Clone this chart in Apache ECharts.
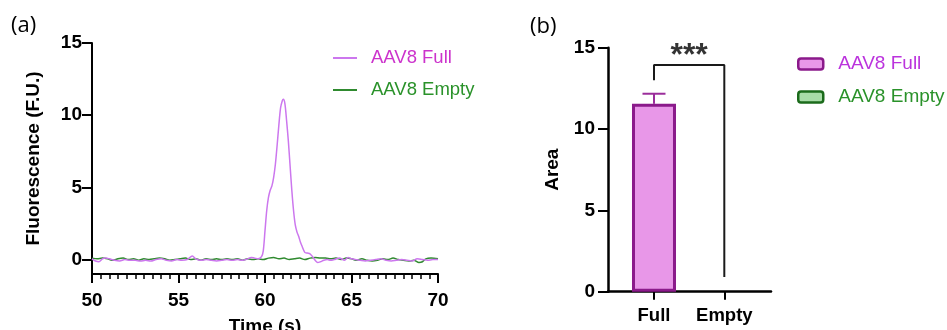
<!DOCTYPE html>
<html><head><meta charset="utf-8">
<script src="https://cdn.jsdelivr.net/npm/echarts@6/dist/echarts.min.js"></script>
<style>html,body{margin:0;padding:0;background:#fff}#c{width:947px;height:330px}</style>
</head><body><div id="c"></div>
<script>
// ---- Panel (a): electropherogram ----
const fullTime = [50.0,50.2,50.4,50.6,50.8,51.0,51.3,51.6,51.9,52.2,52.5,52.8,53.1,53.4,53.7,54.0,54.3,54.6,54.9,55.2,55.5,55.8,56.0,56.3,56.6,56.9,57.2,57.5,57.8,58.1,58.4,58.7,59.0,59.2,59.4,59.6,59.8,59.9,60.0,60.1,60.2,60.3,60.4,60.5,60.6,60.7,60.8,60.9,61.0,61.06,61.15,61.25,61.35,61.45,61.55,61.65,61.75,61.85,61.95,62.05,62.15,62.3,62.45,62.6,62.75,62.9,63.05,63.2,63.4,63.6,63.8,64.0,64.3,64.6,64.8,65.0,65.2,65.5,65.8,66.1,66.4,66.7,67.0,67.3,67.6,67.9,68.2,68.5,68.8,69.1,69.4,69.7,70.0];
const fullSignal = [0.05,-0.1,-0.15,0.05,0.1,0.05,-0.05,-0.1,0.0,-0.05,-0.05,-0.1,-0.05,-0.1,0.0,0.05,-0.05,-0.1,0.0,-0.05,0.0,0.25,0.05,-0.05,0.0,-0.05,-0.1,-0.05,0.0,-0.05,0.0,-0.05,0.05,0.15,0.1,0.05,0.2,0.6,2.0,3.4,4.3,4.8,5.1,5.7,6.6,7.9,9.3,10.5,11.0,11.1,10.8,9.6,8.2,6.5,4.8,3.4,2.4,1.9,1.6,1.2,0.9,0.5,0.45,0.4,0.2,-0.05,-0.2,-0.15,-0.05,0.0,-0.05,0.0,0.1,-0.05,0.15,0.05,0.0,-0.05,-0.1,-0.05,0.0,0.05,-0.05,-0.1,-0.05,0.0,-0.05,-0.1,0.05,0.0,-0.05,0.0,0.0];
const emptyTime = [50.0,50.3,50.6,50.9,51.2,51.5,51.8,52.1,52.4,52.7,53.0,53.3,53.6,53.9,54.2,54.5,54.8,55.1,55.4,55.7,56.0,56.3,56.6,56.9,57.2,57.5,57.8,58.1,58.4,58.7,59.0,59.3,59.6,59.9,60.2,60.5,60.8,61.1,61.4,61.7,62.0,62.3,62.6,62.9,63.2,63.5,63.8,64.1,64.4,64.7,65.0,65.3,65.6,65.9,66.2,66.5,66.8,67.1,67.4,67.7,68.0,68.3,68.6,68.9,69.1,69.3,69.6,70.0];
const emptySignal = [0.1,0.05,0.1,0.05,-0.05,0.05,0.1,0.0,0.05,-0.05,0.05,0.0,0.05,0.1,0.05,-0.05,0.0,0.05,0.1,0.0,0.05,-0.05,0.05,0.0,0.05,0.0,0.05,0.0,0.05,-0.05,0.05,0.0,0.05,0.0,0.1,0.15,0.05,0.1,0.0,0.05,0.1,0.0,0.1,0.15,0.1,0.1,0.05,0.1,0.0,0.1,0.05,-0.05,0.05,-0.05,-0.1,-0.05,0.05,0.0,0.1,0.0,-0.05,-0.1,-0.05,-0.2,-0.15,0.05,0.1,0.05];
const yTicksA = [0, 5, 10, 15];
const lineNames = ['AAV8 Full', 'AAV8 Empty'];

// ---- Panel (b): peak area ----
const barCategories = ['Full', 'Empty'];
const barValues = [11.55, 0];
const barErrors = [0.62, 0];
const barLegendNames = ['AAV8 Full', 'AAV8 Empty'];
const yTicksB = [0, 5, 10, 15];
const sigText = '***';
const bracketLeftBottom = 13.0;
const bracketTop = 13.93;
const bracketRightBottom = 0.9;

const FONT = 'Liberation Sans, Arial, sans-serif';
const pair = (t, v) => t.map((x, i) => [x, v[i]]);
const SUFFIX = ' (Area)';

const chart = echarts.init(document.getElementById('c'));
const option = {
  animation: false,
  backgroundColor: '#fff',
  title: [
    {text: '(a)', left: 11, top: 15, padding: 0, textStyle: {fontFamily: 'Open Sans, sans-serif', fontWeight: 'normal', fontSize: 22, color: '#000'}},
    {text: '(b)', left: 530, top: 16, padding: 0, textStyle: {fontFamily: 'Open Sans, sans-serif', fontWeight: 'normal', fontSize: 22, color: '#000'}}
  ],
  grid: [
    {left: 92, top: 43, width: 346, height: 231, outerBoundsMode: 'none', containLabel: false},
    {left: 608, top: 47.7, width: 163, height: 244, outerBoundsMode: 'none', containLabel: false}
  ],
  legend: [
    {
      orient: 'vertical', left: 333, top: 48, padding: 0, itemWidth: 24, itemHeight: 2, itemGap: 12,
      icon: 'rect',
      data: [
        {name: lineNames[0], textStyle: {color: '#cc33cc'}},
        {name: lineNames[1], textStyle: {color: '#2a922a'}}
      ],
      textStyle: {fontFamily: FONT, fontSize: 18.5, lineHeight: 20, padding: [0, 0, 0, 9]}
    },
    {
      orient: 'vertical', left: 797, top: 54, padding: 0, itemWidth: 25, itemHeight: 11, itemGap: 13,
      itemStyle: {borderWidth: 2.5},
      data: [
        {name: barLegendNames[0] + SUFFIX, textStyle: {color: '#bb33dd'}},
        {name: barLegendNames[1] + SUFFIX, textStyle: {color: '#2a922a'}}
      ],
      formatter: n => n.replace(SUFFIX, ''),
      textStyle: {fontFamily: FONT, fontSize: 19, lineHeight: 20, padding: [0, 0, 0, 10]}
    }
  ],
  xAxis: [
    {
      type: 'value', gridIndex: 0, min: 50, max: 70, interval: 5,
      axisLine: {show: true, onZero: false, lineStyle: {color: '#000', width: 2}},
      axisTick: {show: true, length: 9, lineStyle: {color: '#000', width: 2}},
      minorTick: {show: true, splitNumber: 10, length: 5, lineStyle: {color: '#000', width: 1.5}},
      splitLine: {show: false}, minorSplitLine: {show: false},
      axisLabel: {color: '#000', fontFamily: FONT, fontWeight: 'bold', fontSize: 19, margin: 17},
      name: 'Time (s)', nameLocation: 'middle', nameGap: 43,
      nameTextStyle: {color: '#000', fontFamily: FONT, fontWeight: 'bold', fontSize: 19}
    },
    {
      type: 'value', gridIndex: 1, min: -0.654, max: 1.664,
      axisLine: {show: true, onZero: false, lineStyle: {color: '#000', width: 2.5}},
      axisTick: {show: true, length: 8, customValues: [0, 1], lineStyle: {color: '#000', width: 2}},
      splitLine: {show: false},
      axisLabel: {customValues: [0, 1], formatter: v => barCategories[Math.round(v)], color: '#000', fontFamily: FONT, fontWeight: 'bold', fontSize: 18.5, margin: 15}
    }
  ],
  yAxis: [
    {
      type: 'value', gridIndex: 0, min: -1, max: 15,
      axisLine: {show: true, onZero: false, lineStyle: {color: '#000', width: 2}},
      axisTick: {show: true, length: 10, customValues: yTicksA, lineStyle: {color: '#000', width: 2}},
      splitLine: {show: false},
      axisLabel: {customValues: yTicksA, color: '#000', fontFamily: FONT, fontWeight: 'bold', fontSize: 19, margin: 10},
      name: 'Fluorescence (F.U.)', nameLocation: 'middle', nameGap: 49,
      nameTextStyle: {color: '#000', fontFamily: FONT, fontWeight: 'bold', fontSize: 19}
    },
    {
      type: 'value', gridIndex: 1, min: 0, max: 15, interval: 5,
      axisLine: {show: true, onZero: false, lineStyle: {color: '#000', width: 2.5}},
      axisTick: {show: true, length: 10, lineStyle: {color: '#000', width: 2}},
      splitLine: {show: false},
      axisLabel: {color: '#000', fontFamily: FONT, fontWeight: 'bold', fontSize: 19, margin: 13},
      name: 'Area', nameLocation: 'middle', nameGap: 46,
      nameTextStyle: {color: '#000', fontFamily: FONT, fontWeight: 'bold', fontSize: 19}
    }
  ],
  series: [
    {
      name: lineNames[1], type: 'line', xAxisIndex: 0, yAxisIndex: 0, symbol: 'none', smooth: 0.3,
      lineStyle: {color: '#2f8a2f', width: 1.5}, itemStyle: {color: '#2f8a2f'},
      data: pair(emptyTime, emptySignal), z: 2
    },
    {
      name: lineNames[0], type: 'line', xAxisIndex: 0, yAxisIndex: 0, symbol: 'none', smooth: 0.3,
      lineStyle: {color: '#cc77ee', width: 1.5}, itemStyle: {color: '#cc77ee'},
      data: pair(fullTime, fullSignal), z: 3
    },
    {
      name: barLegendNames[0] + SUFFIX, type: 'bar', xAxisIndex: 1, yAxisIndex: 1,
      barWidth: 44, barGap: '-100%',
      itemStyle: {color: '#e897e8', borderColor: '#8b1a8b', borderWidth: 3},
      data: [[0, barValues[0]]]
    },
    {
      name: barLegendNames[1] + SUFFIX, type: 'bar', xAxisIndex: 1, yAxisIndex: 1,
      barWidth: 44, barGap: '-100%',
      itemStyle: {color: '#a8dca8', borderColor: '#1b6b1b', borderWidth: 3},
      data: [{value: [1, barValues[1]], itemStyle: {opacity: 0}}]
    },
    {
      type: 'custom', xAxisIndex: 1, yAxisIndex: 1, z: 1,
      data: barValues.map((v, i) => [i, v, v + barErrors[i]]).filter((d, i) => barErrors[i] > 0),
      renderItem: (params, api) => {
        const x = api.value(0), lo = api.value(1), hi = api.value(2);
        const pLo = api.coord([x, lo]), pHi = api.coord([x, hi]);
        const half = 11.5, st = {stroke: '#9b2d9b', lineWidth: 2};
        return {type: 'group', children: [
          {type: 'line', shape: {x1: pHi[0], y1: pHi[1], x2: pLo[0], y2: pLo[1]}, style: st},
          {type: 'line', shape: {x1: pHi[0] - half, y1: pHi[1], x2: pHi[0] + half, y2: pHi[1]}, style: st}
        ]};
      }
    },
    {
      type: 'line', xAxisIndex: 1, yAxisIndex: 1, symbol: 'none',
      lineStyle: {color: '#1a1a1a', width: 2},
      data: [[0, bracketLeftBottom], [0, bracketTop], [1, bracketTop], [1, bracketRightBottom]]
    },
    {
      type: 'scatter', xAxisIndex: 1, yAxisIndex: 1, symbolSize: 1, itemStyle: {color: 'rgba(0,0,0,0)'},
      data: [[0.5, 14.5]],
      label: {show: true, position: 'inside', formatter: sigText, color: '#000', textBorderWidth: 0, fontFamily: FONT, fontWeight: 'bold', fontSize: 32}
    }
  ]
};
chart.setOption(option);
</script>
</body></html>
